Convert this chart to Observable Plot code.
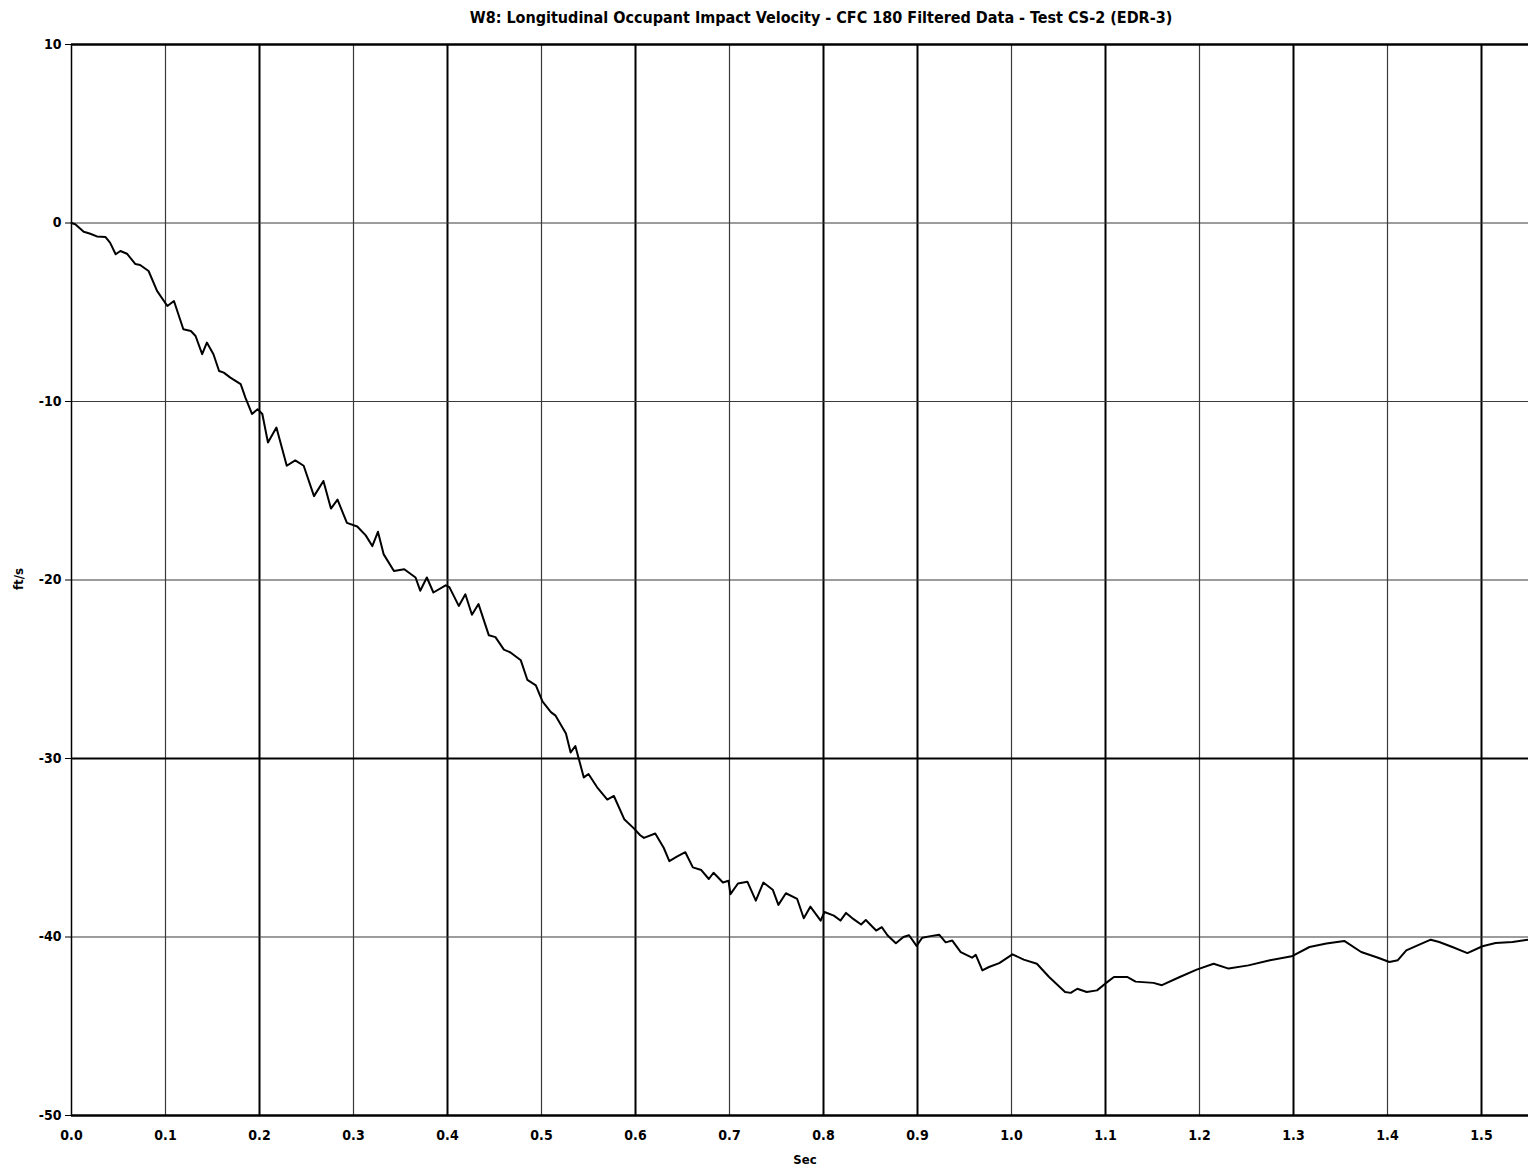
<!DOCTYPE html>
<html>
<head>
<meta charset="utf-8">
<script src="https://cdn.jsdelivr.net/npm/d3@7"></script>
<script src="https://cdn.jsdelivr.net/npm/@observablehq/plot@0.6"></script>
<style>
  body { margin: 0; background: #fff; }
  #wrap { position: relative; width: 1528px; height: 1172px; }
  #title {
    position: absolute; top: 8px; left: 821px; transform: translateX(-50%);
    white-space: nowrap;
    font-family: "Liberation Sans Narrow", "DejaVu Sans Condensed", "Liberation Sans", sans-serif;
    font-stretch: condensed;
    font-weight: bold; font-size: 16px; color: #000; line-height: 20px;
  }
  #chart { position: absolute; top: 30px; left: 0; }
  #chart svg { font-family: "Liberation Sans Narrow", "DejaVu Sans Condensed", "Liberation Sans", sans-serif; font-stretch: condensed; }
</style>
</head>
<body>
<div id="wrap">
  <div id="title"></div>
  <div id="chart"></div>
</div>
<script>
// ---- data ----
const titleText = "W8: Longitudinal Occupant Impact Velocity - CFC 180 Filtered Data - Test CS-2 (EDR-3)";
const xLabel = "Sec";
const yLabel = "ft/s";
const xTicks = [0.0, 0.1, 0.2, 0.3, 0.4, 0.5, 0.6, 0.7, 0.8, 0.9, 1.0, 1.1, 1.2, 1.3, 1.4, 1.5];
const yTicks = [10, 0, -10, -20, -30, -40, -50];
const timeSec = [
  0.000, 0.004, 0.013, 0.020, 0.027, 0.036, 0.041, 0.047, 0.052, 0.059,
  0.068, 0.073, 0.082, 0.091, 0.102, 0.109, 0.119, 0.127, 0.132, 0.139,
  0.144, 0.151, 0.157, 0.162, 0.169, 0.180, 0.185, 0.192, 0.198, 0.203,
  0.209, 0.218, 0.229, 0.238, 0.247, 0.258, 0.268, 0.276, 0.283, 0.293,
  0.304, 0.313, 0.320, 0.326, 0.332, 0.343, 0.354, 0.366, 0.371, 0.378,
  0.385, 0.398, 0.402, 0.412, 0.419, 0.426, 0.433, 0.444, 0.451, 0.460,
  0.467, 0.478, 0.485, 0.494, 0.501, 0.510, 0.515, 0.526, 0.531, 0.536,
  0.545, 0.550, 0.559, 0.570, 0.577, 0.588, 0.598, 0.605, 0.609, 0.621,
  0.630, 0.636, 0.644, 0.653, 0.661, 0.670, 0.678, 0.683, 0.693, 0.699,
  0.701, 0.709, 0.719, 0.728, 0.736, 0.746, 0.752, 0.760, 0.772, 0.779,
  0.786, 0.797, 0.801, 0.811, 0.818, 0.824, 0.832, 0.840, 0.845, 0.856,
  0.862, 0.868, 0.877, 0.885, 0.891, 0.899, 0.905, 0.914, 0.923, 0.930,
  0.937, 0.946, 0.958, 0.962, 0.969, 0.976, 0.987, 1.001, 1.013, 1.027,
  1.040, 1.057, 1.063, 1.070, 1.080, 1.091, 1.100, 1.109, 1.123, 1.132,
  1.151, 1.160, 1.179, 1.197, 1.215, 1.231, 1.252, 1.275, 1.298, 1.317,
  1.335, 1.354, 1.372, 1.390, 1.402, 1.411, 1.420, 1.432, 1.446, 1.455,
  1.469, 1.485, 1.501, 1.515, 1.533, 1.550
];
const velocityFtS = [
  0.00, -0.07, -0.49, -0.60, -0.75, -0.78, -1.10, -1.75, -1.57, -1.72,
  -2.30, -2.35, -2.69, -3.80, -4.65, -4.37, -5.95, -6.05, -6.33, -7.35,
  -6.70, -7.35, -8.29, -8.38, -8.66, -9.03, -9.78, -10.70, -10.43, -10.70,
  -12.30, -11.46, -13.60, -13.30, -13.60, -15.30, -14.45, -16.00, -15.50, -16.80,
  -17.00, -17.50, -18.10, -17.30, -18.55, -19.50, -19.40, -19.86, -20.60, -19.86,
  -20.70, -20.30, -20.40, -21.45, -20.80, -21.95, -21.35, -23.10, -23.20, -23.90,
  -24.06, -24.50, -25.60, -25.90, -26.80, -27.40, -27.60, -28.60, -29.66, -29.30,
  -31.06, -30.87, -31.60, -32.30, -32.10, -33.40, -33.90, -34.30, -34.45, -34.20,
  -35.00, -35.75, -35.50, -35.25, -36.10, -36.25, -36.75, -36.40, -36.95, -36.85,
  -37.60, -37.00, -36.90, -37.96, -36.95, -37.35, -38.20, -37.55, -37.87, -38.95,
  -38.30, -39.08, -38.60, -38.80, -39.08, -38.65, -39.00, -39.30, -39.05, -39.64,
  -39.45, -39.90, -40.35, -40.00, -39.90, -40.50, -40.04, -39.95, -39.87, -40.30,
  -40.20, -40.85, -41.16, -41.00, -41.87, -41.68, -41.46, -40.97, -41.27, -41.50,
  -42.24, -43.08, -43.13, -42.90, -43.08, -42.99, -42.60, -42.24, -42.24, -42.50,
  -42.57, -42.70, -42.24, -41.83, -41.50, -41.77, -41.59, -41.30, -41.08, -40.56,
  -40.37, -40.22, -40.84, -41.16, -41.40, -41.30, -40.75, -40.47, -40.15, -40.28,
  -40.56, -40.90, -40.52, -40.34, -40.28, -40.15
];

// ---- styling ----
const heavyX = new Set(["0.2", "0.4", "0.6", "0.8", "0.9", "1.1", "1.3", "1.5"]);
const heavyY = new Set([-30]);
const series = timeSec.map((t, i) => ({t, v: velocityFtS[i]}));
const font = `"Liberation Sans Narrow", "DejaVu Sans Condensed", "Liberation Sans", sans-serif`;

document.getElementById("title").textContent = titleText;

const chart = Plot.plot({
  width: 1528,
  height: 1142,
  marginTop: 14,
  marginBottom: 57,
  marginLeft: 71,
  marginRight: 0,
  style: {fontFamily: font, fontSize: "14px", fontWeight: "bold", background: "#fff", color: "#000", overflow: "visible"},
  x: {domain: [0, 1.55], label: null},
  y: {domain: [-50, 10], label: null},
  marks: [
    // gridlines
    Plot.ruleX(xTicks.filter(d => d > 0), {
      x: d => d, stroke: d => heavyX.has(d.toFixed(1)) ? "#000" : "#3a3a3a",
      strokeWidth: d => heavyX.has(d.toFixed(1)) ? 2 : 1.2
    }),
    Plot.ruleY(yTicks.filter(d => d > -50 && d < 10), {
      y: d => d, stroke: d => heavyY.has(d) ? "#000" : "#3a3a3a",
      strokeWidth: d => heavyY.has(d) ? 2 : 1.2
    }),
    // frame lines
    Plot.ruleY([10], {stroke: "#000", strokeWidth: 2.5}),
    Plot.ruleY([-50], {stroke: "#000", strokeWidth: 2.5}),
    Plot.ruleX([0], {stroke: "#000", strokeWidth: 1.5}),
    // axes
    Plot.axisX(xTicks, {tickSize: 0, tickPadding: 15, tickFormat: d3.format(".1f"), fontSize: 14, fontWeight: "bold", label: null}),
    Plot.axisY(yTicks, {tickSize: 6, tickPadding: 4, tickFormat: d => String(d), fontSize: 14, fontWeight: "bold", label: null, stroke: "#000"}),
    // the curve
    Plot.line(series, {x: "t", y: "v", stroke: "#000", strokeWidth: 2, curve: "linear"}),
    // axis titles
    Plot.text([xLabel], {frameAnchor: "bottom", dx: 5, dy: 48, text: d => d, fontSize: 13, fontWeight: "bold"}),
    Plot.text([yLabel], {frameAnchor: "left", dx: -53, dy: 10, rotate: -90, text: d => d, fontSize: 13, fontWeight: "bold"})
  ]
});
document.getElementById("chart").appendChild(chart);
</script>
</body>
</html>
